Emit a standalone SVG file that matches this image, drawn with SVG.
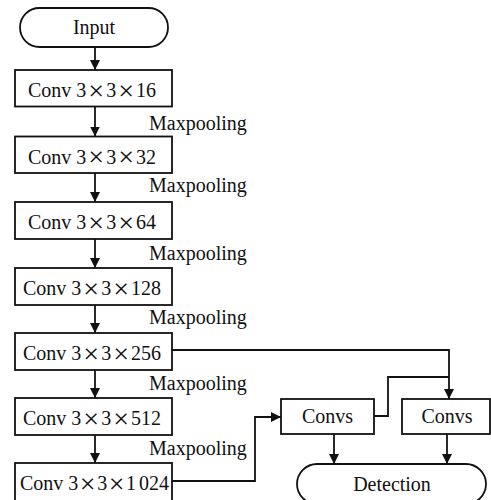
<svg xmlns="http://www.w3.org/2000/svg" width="491" height="500" viewBox="0 0 491 500">
  <defs>
    <marker id="arrow" markerUnits="userSpaceOnUse" markerWidth="10" markerHeight="12" viewBox="0 0 10 12" refX="10" refY="6" orient="auto">
      <path d="M0,1 L10,6 L0,11 Z" fill="#111"/>
    </marker>
    <style>
      .box { fill: #fff; stroke: #111; stroke-width: 1.8; }
      .lbl { font-family: "Liberation Serif", "Times New Roman", serif; font-size: 20px; fill: #111; }
      .x { font-size: 28px; }
      .mid { text-anchor: middle; }
      .wire { fill: none; stroke: #111; stroke-width: 1.8; }
      .arr { fill: none; stroke: #111; stroke-width: 1.8; marker-end: url(#arrow); }
    </style>
  </defs>
  <rect width="491" height="500" fill="#fff"/>

  <!-- connectors -->
  <g id="connectors">
    <line class="arr" x1="95" y1="47" x2="95" y2="70"/>
    <line class="arr" x1="95" y1="107" x2="95" y2="136.5"/>
    <line class="arr" x1="95" y1="173" x2="95" y2="202"/>
    <line class="arr" x1="95" y1="239" x2="95" y2="268"/>
    <line class="arr" x1="95" y1="305" x2="95" y2="333"/>
    <line class="arr" x1="95" y1="370" x2="95" y2="398"/>
    <line class="arr" x1="95" y1="435" x2="95" y2="463"/>
    <polyline class="arr" points="172,350 449,350 449,399"/>
    <polyline class="arr" points="172,481 255,481 255,417 281,417"/>
    <polyline class="wire" points="374,416 388,416 388,377 449,377"/>
    <line class="arr" x1="334" y1="434" x2="334" y2="464"/>
    <line class="arr" x1="447" y1="434" x2="447" y2="464"/>
  </g>

  <!-- pooling labels -->
  <g id="pool-labels" class="lbl">
    <text x="149" y="130">Maxpooling</text>
    <text x="149" y="192">Maxpooling</text>
    <text x="149" y="260">Maxpooling</text>
    <text x="149" y="324">Maxpooling</text>
    <text x="149" y="390">Maxpooling</text>
    <text x="149" y="455">Maxpooling</text>
  </g>

  <g id="input">
    <rect class="box" x="20" y="8" width="148" height="39" rx="19.5"/>
    <text class="lbl mid" x="94" y="34">Input</text>
  </g>

  <g id="conv16">
    <rect class="box" x="15" y="70" width="157" height="36.5"/>
    <text class="lbl" x="28" y="97">Conv 3<tspan class="x" dx="2" dy="2.5">×</tspan><tspan dx="2" dy="-2.5">3</tspan><tspan class="x" dx="2" dy="2.5">×</tspan><tspan dx="2" dy="-2.5">16</tspan></text>
  </g>
  <g id="conv32">
    <rect class="box" x="15" y="136.5" width="157" height="36.5"/>
    <text class="lbl" x="28" y="163.5">Conv 3<tspan class="x" dx="2" dy="2.5">×</tspan><tspan dx="2" dy="-2.5">3</tspan><tspan class="x" dx="2" dy="2.5">×</tspan><tspan dx="2" dy="-2.5">32</tspan></text>
  </g>
  <g id="conv64">
    <rect class="box" x="15" y="202" width="157" height="37"/>
    <text class="lbl" x="28" y="229">Conv 3<tspan class="x" dx="2" dy="2.5">×</tspan><tspan dx="2" dy="-2.5">3</tspan><tspan class="x" dx="2" dy="2.5">×</tspan><tspan dx="2" dy="-2.5">64</tspan></text>
  </g>
  <g id="conv128">
    <rect class="box" x="15" y="268" width="157" height="37"/>
    <text class="lbl" x="23" y="295">Conv 3<tspan class="x" dx="2" dy="2.5">×</tspan><tspan dx="2" dy="-2.5">3</tspan><tspan class="x" dx="2" dy="2.5">×</tspan><tspan dx="2" dy="-2.5">128</tspan></text>
  </g>
  <g id="conv256">
    <rect class="box" x="15" y="333" width="157" height="37"/>
    <text class="lbl" x="23" y="360">Conv 3<tspan class="x" dx="2" dy="2.5">×</tspan><tspan dx="2" dy="-2.5">3</tspan><tspan class="x" dx="2" dy="2.5">×</tspan><tspan dx="2" dy="-2.5">256</tspan></text>
  </g>
  <g id="conv512">
    <rect class="box" x="15" y="398" width="157" height="37"/>
    <text class="lbl" x="23" y="425">Conv 3<tspan class="x" dx="2" dy="2.5">×</tspan><tspan dx="2" dy="-2.5">3</tspan><tspan class="x" dx="2" dy="2.5">×</tspan><tspan dx="2" dy="-2.5">512</tspan></text>
  </g>
  <g id="conv1024">
    <rect class="box" x="15" y="463" width="157" height="40"/>
    <text class="lbl" x="20" y="490">Conv 3<tspan class="x" dx="1.5" dy="2.5">×</tspan><tspan dx="1.5" dy="-2.5">3</tspan><tspan class="x" dx="1.5" dy="2.5">×</tspan><tspan dx="1.5" dy="-2.5">1</tspan><tspan dx="3">024</tspan></text>
  </g>

  <g id="convs-left">
    <rect class="box" x="281" y="399" width="93" height="35"/>
    <text class="lbl mid" x="327.5" y="423">Convs</text>
  </g>
  <g id="convs-right">
    <rect class="box" x="402" y="399" width="88" height="35"/>
    <text class="lbl mid" x="447" y="423">Convs</text>
  </g>

  <g id="detection">
    <rect class="box" x="297" y="464" width="189" height="40" rx="20"/>
    <text class="lbl mid" x="392" y="491">Detection</text>
  </g>
</svg>
